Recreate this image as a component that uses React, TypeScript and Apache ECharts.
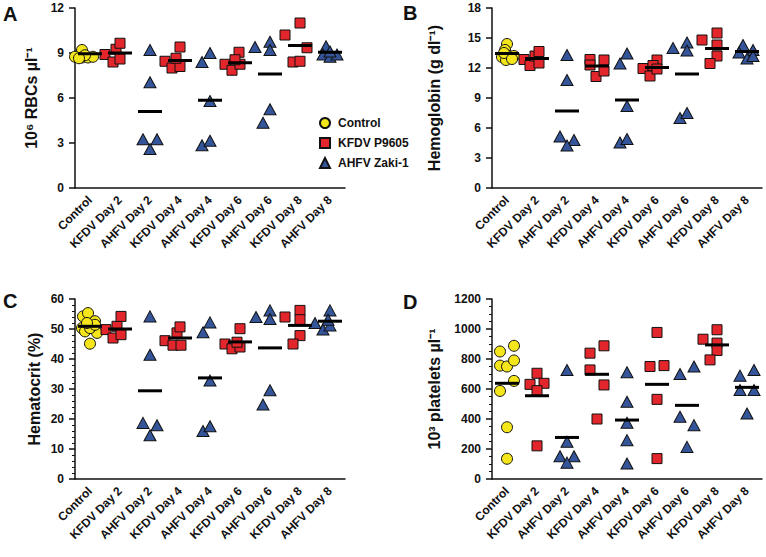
import React, { useEffect, useRef } from 'react';
import * as echarts from 'echarts';

const categories = ['Control', 'KFDV Day 2', 'AHFV Day 2', 'KFDV Day 4', 'AHFV Day 4', 'KFDV Day 6', 'AHFV Day 6', 'KFDV Day 8', 'AHFV Day 8'];
const groupNames = ['Control', 'KFDV P9605', 'AHFV Zaki-1'];
const categoryGroup = [0, 1, 2, 1, 2, 1, 2, 1, 2];

// Panel A: 10^6 RBCs per µl
const rbcValues: number[][] = [
  [9.2, 8.75, 8.7, 8.7, 8.75, 8.85, 8.65],
  [8.9, 8.4, 9.25, 9.65, 8.6],
  [9.2, 7.05, 3.25, 3.25, 2.6],
  [8.45, 8.0, 8.1, 9.4, 8.65],
  [8.4, 9.0, 5.8, 2.85, 3.15],
  [8.25, 7.85, 8.25, 9.05, 8.55],
  [9.4, 9.75, 9.2, 4.35, 5.25],
  [10.2, 11.0, 8.4, 8.45, 9.35],
  [9.45, 8.9, 8.75, 8.9, 9.1],
];
const rbcMeans = [8.95, 9.0, 5.1, 8.5, 5.85, 8.35, 7.6, 9.5, 9.05];
const rbcJitter: number[][] = [
  [-8, -15, -8, -2, 3, -5, -11],
  [-15, -7, -4, 0, 0],
  [0, 0, -7, 7, 0],
  [-15, -8, 0, 0, -4],
  [-8, 0, 0, -8, 0],
  [-15, -8, 0, -1, -5],
  [-15, 0, 0, -7, 0],
  [-15, 0, -7, 0, 7],
  [-4, -7, 0, 7, 0],
];

// Panel B: Hemoglobin
const hgbValues: number[][] = [
  [14.4, 13.8, 13.1, 13.2, 13.2, 12.8, 13.5, 12.9],
  [12.85, 12.25, 13.2, 12.5, 13.65],
  [13.3, 10.8, 5.15, 4.8, 4.25],
  [12.85, 12.3, 11.15, 11.7, 12.8],
  [12.45, 13.45, 8.2, 4.55, 4.9],
  [11.95, 11.2, 12.8, 12.25, 11.9],
  [14.0, 14.55, 13.75, 7.0, 7.5],
  [14.8, 15.5, 14.3, 13.2, 12.45],
  [14.3, 13.55, 13.8, 12.95, 13.2],
];
const hgbMeans = [13.45, 12.95, 7.7, 12.2, 8.8, 12.05, 11.4, 13.95, 13.65];
const hgbJitter: number[][] = [
  [0, -2, -5, 2, 7, -1, -3, 5],
  [-13, -7, -2, 2, 2],
  [0, 0, -7, 7, 0],
  [-7, -7, -1, 7, 7],
  [-7, 0, 0, -7, 0],
  [-14, -7, 0, -4, 0],
  [-14, 0, 0, -7, 0],
  [-15, 0, 0, 0, -7],
  [-4, -8, 6, 0, 6],
];

// Panel C: Hematocrit
const hctValues: number[][] = [
  [54.2, 55.3, 52.6, 50.3, 49.2, 48.7, 45.1, 50.3, 51.4, 52.0],
  [49.8, 47.0, 50.9, 48.1, 54.2],
  [54.2, 41.4, 18.7, 17.9, 14.6],
  [46.1, 44.6, 48.7, 50.7, 44.6],
  [48.9, 52.2, 32.8, 16.0, 17.6],
  [45.0, 43.4, 44.0, 45.6, 50.1],
  [54.0, 56.2, 53.3, 24.8, 29.6],
  [54.0, 56.2, 53.1, 47.8, 45.0],
  [52.0, 49.8, 56.2, 51.2, 53.1],
];
const hctMeans = [50.9, 50.0, 29.4, 47.0, 33.7, 45.7, 43.7, 51.2, 52.6];
const hctJitter: number[][] = [
  [-7, -2, 5, -8, -5, 7, 0, 0, 5, -3],
  [-14, -7, -3, 1, 1],
  [0, 0, -7, 7, 0],
  [-15, -7, -3, 0, 1],
  [-7, 0, 0, -7, 0],
  [-15, -8, 0, -3, 0],
  [-14, 0, 0, -7, 0],
  [-15, 0, 0, 0, -7],
  [-15, -7, 0, 0, -2],
];

// Panel D: platelets
const pltValues: number[][] = [
  [850, 756, 750, 888, 790, 654, 587, 345, 135],
  [631, 705, 638, 589, 221],
  [727, 248, 152, 152, 109],
  [839, 888, 727, 627, 400],
  [712, 515, 375, 259, 103],
  [977, 750, 756, 531, 136],
  [700, 750, 415, 359, 214],
  [932, 995, 906, 857, 794],
  [689, 727, 593, 593, 437],
];
const pltMeans = [638, 555, 277, 698, 393, 631, 491, 894, 611];
const pltJitter: number[][] = [
  [-7, -7, 0, 7, 7, 7, -7, 0, 0],
  [-7, 0, 7, 0, 0],
  [0, 0, -7, 7, 0],
  [-7, 7, -7, 7, 0],
  [0, 0, 0, 0, 0],
  [0, -7, 7, 0, 0],
  [-7, 7, -7, 7, 0],
  [-14, 0, 0, 0, -7],
  [-7, 7, -7, 7, 0],
];

const yTitles = ['10⁶ RBCs µl⁻¹', 'Hemoglobin (g dl⁻¹)', 'Hematocrit (%)', '10³ platelets µl⁻¹'];
const panelLetters = ['A', 'B', 'C', 'D'];

const FONT = "'Liberation Sans', Arial, Helvetica, sans-serif";
const INK = '#111';
const groupSymbols = ['circle', 'rect', 'triangle'];
const groupSizes: any[] = [11, 10, [12, 11]];
const groupColors = ['#f4e61a', '#e3262b', '#34559a'];

const panels = [
  { values: rbcValues, means: rbcMeans, jitter: rbcJitter, max: 12, interval: 3, minor: 0, left: 75, top: 8, gap: 36 },
  { values: hgbValues, means: hgbMeans, jitter: hgbJitter, max: 18, interval: 3, minor: 0, left: 492, top: 8, gap: 50 },
  { values: hctValues, means: hctMeans, jitter: hctJitter, max: 60, interval: 10, minor: 5, left: 75, top: 299, gap: 33 },
  { values: pltValues, means: pltMeans, jitter: pltJitter, max: 1200, interval: 200, minor: 4, left: 492, top: 299, gap: 50 },
];
const letterPos = [[3, 4], [403, 3], [3, 291], [403, 292]];

export default function App() {
  const ref = useRef<HTMLDivElement>(null);
  useEffect(() => {
    if (!ref.current) return;
    const chart = echarts.init(ref.current, undefined, { renderer: 'svg' });
    const grids: any[] = [];
    const xAxes: any[] = [];
    const yAxes: any[] = [];
    const series: any[] = [];
    panels.forEach((p, pi) => {
      grids.push({ left: p.left, top: p.top, width: 270, height: 180 });
      xAxes.push({
        type: 'category',
        gridIndex: pi,
        data: categories,
        boundaryGap: true,
        axisLine: { lineStyle: { color: INK, width: 1.5 } },
        axisTick: { alignWithLabel: true, length: 6, lineStyle: { color: INK, width: 1.5 } },
        axisLabel: { rotate: 45, margin: 10, color: INK, fontFamily: FONT, fontWeight: 'bold', fontSize: 12, interval: 0 },
        splitLine: { show: false },
      });
      yAxes.push({
        type: 'value',
        gridIndex: pi,
        min: 0,
        max: p.max,
        interval: p.interval,
        name: yTitles[pi],
        nameLocation: 'middle',
        nameGap: p.gap,
        nameTextStyle: { color: INK, fontFamily: FONT, fontWeight: 'bold', fontSize: 16 },
        axisLine: { show: true, lineStyle: { color: INK, width: 1.5 } },
        axisTick: { show: true, length: 6, lineStyle: { color: INK, width: 1.5 } },
        minorTick: p.minor ? { show: true, splitNumber: p.minor, length: 3, lineStyle: { color: INK, width: 1 } } : { show: false },
        axisLabel: { color: INK, fontFamily: FONT, fontWeight: 'bold', fontSize: 12, margin: 11, formatter: (v: number) => String(v) },
        splitLine: { show: false },
      });
      groupNames.forEach((gn, g) => {
        const data: any[] = [];
        p.values.forEach((vals, ci) => {
          if (categoryGroup[ci] !== g) return;
          vals.forEach((v, j) => {
            data.push({ value: [ci, v], symbolOffset: [p.jitter[ci][j] || 0, 0] });
          });
        });
        series.push({
          type: 'scatter',
          name: gn,
          xAxisIndex: pi,
          yAxisIndex: pi,
          symbol: groupSymbols[g],
          symbolSize: groupSizes[g],
          itemStyle: { color: groupColors[g], borderColor: INK, borderWidth: 1, opacity: 1 },
          emphasis: { disabled: true },
          data,
          z: 2,
        });
      });
      series.push({
        type: 'scatter',
        name: 'mean',
        xAxisIndex: pi,
        yAxisIndex: pi,
        symbol: 'rect',
        symbolSize: [24, 3],
        itemStyle: { color: '#000', opacity: 1 },
        emphasis: { disabled: true },
        data: p.means.map((m, i) => [i, m]),
        z: 3,
      });
    });
    chart.setOption({
      animation: false,
      backgroundColor: '#fff',
      grid: grids,
      xAxis: xAxes,
      yAxis: yAxes,
      series,
      legend: {
        orient: 'vertical',
        left: 319,
        top: 117,
        padding: 0,
        itemWidth: 10,
        itemHeight: 10,
        itemGap: 8,
        selectedMode: false,
        textStyle: { color: INK, fontFamily: FONT, fontWeight: 'bold', fontSize: 12, padding: [0, 0, 0, 3] },
        data: [
          { name: 'Control', icon: 'circle' },
          { name: 'KFDV P9605', icon: 'rect' },
          { name: 'AHFV Zaki-1', icon: 'triangle' },
        ],
      },
      graphic: panelLetters.map((t, i) => ({
        type: 'text',
        left: letterPos[i][0],
        top: letterPos[i][1],
        style: { text: t, fill: INK, font: `bold 20px ${FONT}` },
      })),
    });
    return () => chart.dispose();
  }, []);
  return <div ref={ref} style={{ position: 'fixed', left: 0, top: 0, width: 766, height: 557, background: '#fff' }} />;
}
